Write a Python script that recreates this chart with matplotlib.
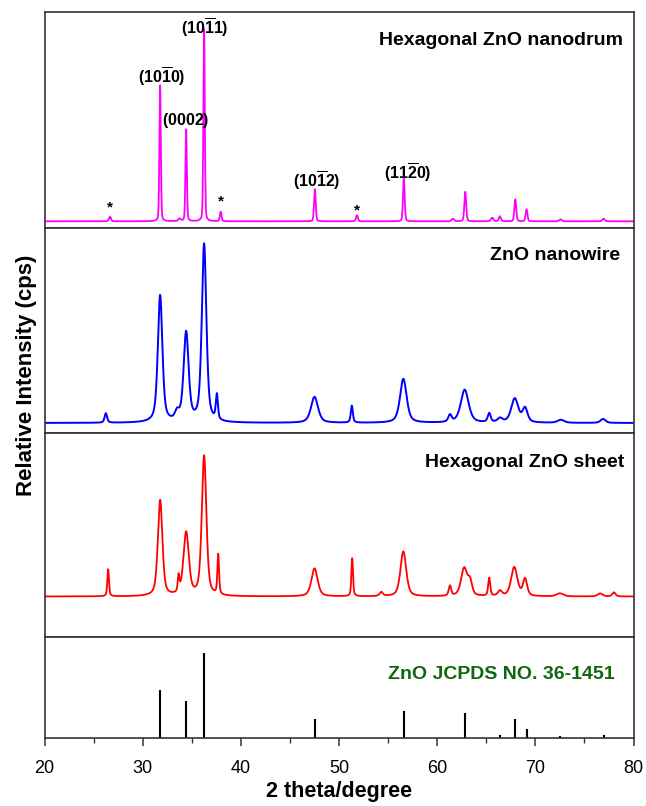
import numpy as np
import matplotlib
matplotlib.use("Agg")
import matplotlib.pyplot as plt
from matplotlib.ticker import MultipleLocator

plt.rcParams['font.family'] = ['Liberation Sans', 'DejaVu Sans']
plt.rcParams['mathtext.fontset'] = 'custom'
plt.rcParams['mathtext.rm'] = 'Liberation Sans'
plt.rcParams['mathtext.bf'] = 'Liberation Sans:bold'

# ---------------- data ----------------
# Hexagonal ZnO nanodrum (magenta): peak position (2theta), height, FWHM
drum_pos = [26.66, 31.77, 33.75, 34.42, 36.25, 37.94, 47.54, 51.82, 56.60, 61.6, 62.86, 65.6, 66.38, 67.96, 69.10, 72.56, 76.95]
drum_h   = [4.5, 136, 2.5, 92, 192, 9.5, 32, 6, 43, 2.5, 29.5, 3.5, 5, 22, 12, 2, 2.5]
drum_w   = [0.25, 0.17, 0.3, 0.17, 0.17, 0.2, 0.2, 0.22, 0.2, 0.3, 0.22, 0.3, 0.25, 0.22, 0.22, 0.3, 0.3]

# ZnO nanowire (blue)
wire_pos = [26.24, 31.77, 33.5, 34.42, 36.25, 37.55, 47.5, 51.3, 56.55, 61.3, 62.8, 65.3, 66.4, 67.9, 68.95, 72.6, 76.9]
wire_h   = [9.5, 127, 8, 89, 178, 25, 26, 17, 44, 7, 33, 9, 4, 24, 14, 3, 4]
wire_w   = [0.3, 0.55, 0.5, 0.6, 0.55, 0.25, 0.85, 0.25, 0.8, 0.4, 0.95, 0.35, 0.6, 0.85, 0.6, 0.8, 0.6]

# Hexagonal ZnO sheet (red)
sheet_pos = [26.48, 31.77, 33.65, 34.42, 36.25, 37.69, 47.5, 51.34, 54.3, 56.55, 61.3, 62.75, 63.35, 65.3, 66.4, 67.85, 68.95, 72.5, 76.6, 78.0]
sheet_h   = [27, 96, 16, 63, 140, 40, 28, 38, 4, 45, 10, 28, 13, 18, 5, 29, 17, 3, 3, 4]
sheet_w   = [0.2, 0.55, 0.2, 0.65, 0.55, 0.2, 0.75, 0.2, 0.4, 0.7, 0.3, 0.75, 0.5, 0.25, 0.5, 0.75, 0.5, 0.8, 0.6, 0.4]

# JCPDS 36-1451 reference lines
jcpds_pos = [31.77, 34.42, 36.25, 47.54, 56.60, 62.86, 66.38, 67.96, 69.10, 72.56, 76.95]
jcpds_int = [57, 44, 100, 23, 32, 29, 4, 23, 11, 2, 4]

# peak labels in the nanodrum panel
hkl_text = [r'$\mathbf{(10\overline{1}0)}$', r'$\mathbf{(0002)}$', r'$\mathbf{(10\overline{1}1)}$',
            r'$\mathbf{(10\overline{1}2)}$', r'$\mathbf{(11\overline{2}0)}$']
hkl_x = [31.96, 34.4, 36.34, 47.75, 57.0]
hkl_y = [145, 101, 194, 41, 49]
star_x = [26.66, 37.94, 51.82]
star_y = [10, 16, 7]

x_ticks = [20, 30, 40, 50, 60, 70, 80]

# ---------------- build profiles ----------------
tt = np.linspace(20, 80, 6001)


def profile(pos, h, w, eta):
    y = np.zeros_like(tt)
    for p, a, f in zip(pos, h, w):
        d = (tt - p) / (f / 2.0)
        lor = 1.0 / (1.0 + d ** 2)
        gau = np.exp(-np.log(2) * d ** 2)
        y += a * (eta * lor + (1 - eta) * gau)
    return y


drum = profile(drum_pos, drum_h, drum_w, 0.25)
wire = profile(wire_pos, wire_h, wire_w, 0.55)
sheet = profile(sheet_pos, sheet_h, sheet_w, 0.5)

# ---------------- figure ----------------
fig = plt.figure(figsize=(6.46, 8.06), dpi=100)
gs = fig.add_gridspec(4, 1, height_ratios=[216, 205, 204, 101], hspace=0,
                      left=44.6 / 646, right=633.5 / 646, top=1 - 12 / 806, bottom=1 - 738 / 806)
axs = [fig.add_subplot(gs[i]) for i in range(4)]

spine_col = '#333333'
for ax in axs:
    ax.set_xlim(20, 80)
    for s in ax.spines.values():
        s.set_color(spine_col)
        s.set_linewidth(1.2)
    ax.tick_params(left=False, labelleft=False)

for ax in axs[:3]:
    ax.tick_params(bottom=False, labelbottom=False)

axs[0].plot(tt, drum, color='#ff00ff', lw=1.3)
axs[0].set_ylim(-6.7, 209.3)
axs[1].plot(tt, wire, color='#0000ff', lw=1.4)
axs[1].set_ylim(-10, 195)
axs[2].plot(tt, sheet, color='#ff0000', lw=1.3)
axs[2].set_ylim(-40.5, 163.5)

axs[3].vlines(jcpds_pos, 0, jcpds_int, color='black', lw=1.5)
axs[3].set_ylim(0, 119.2)

# labels
for t, x, y in zip(hkl_text, hkl_x, hkl_y):
    axs[0].text(x, y, t, ha='center', va='center', fontsize=11.5)
for x, y in zip(star_x, star_y):
    axs[0].text(x, y, '*', ha='center', va='baseline', fontsize=11, fontweight='bold')

axs[0].text(0.982, 0.867, 'Hexagonal ZnO nanodrum', transform=axs[0].transAxes,
            ha='right', va='center', fontsize=14, fontweight='bold')
axs[1].text(0.977, 0.868, 'ZnO nanowire', transform=axs[1].transAxes,
            ha='right', va='center', fontsize=14, fontweight='bold')
axs[2].text(0.985, 0.853, 'Hexagonal ZnO sheet', transform=axs[2].transAxes,
            ha='right', va='center', fontsize=14, fontweight='bold')
axs[3].text(0.968, 0.624, 'ZnO JCPDS NO. 36-1451', transform=axs[3].transAxes,
            ha='right', va='center', fontsize=14, fontweight='bold', color='#11670f')

ax = axs[3]
ax.set_xticks(x_ticks)
ax.xaxis.set_minor_locator(MultipleLocator(5))
ax.tick_params(axis='x', which='major', direction='out', length=6, width=1.1,
               color=spine_col, labelsize=13, pad=10)
ax.tick_params(axis='x', which='minor', direction='out', length=3.5, width=1.0, color=spine_col)
ax.set_xlabel('2 theta/degree', fontsize=15.5, fontweight='bold', labelpad=2.5)

fig.text(27 / 646, 1 - 375 / 806, 'Relative Intensity (cps)', rotation=90,
         ha='center', va='center', fontsize=16, fontweight='bold')

fig.savefig('out.png', dpi=100)
